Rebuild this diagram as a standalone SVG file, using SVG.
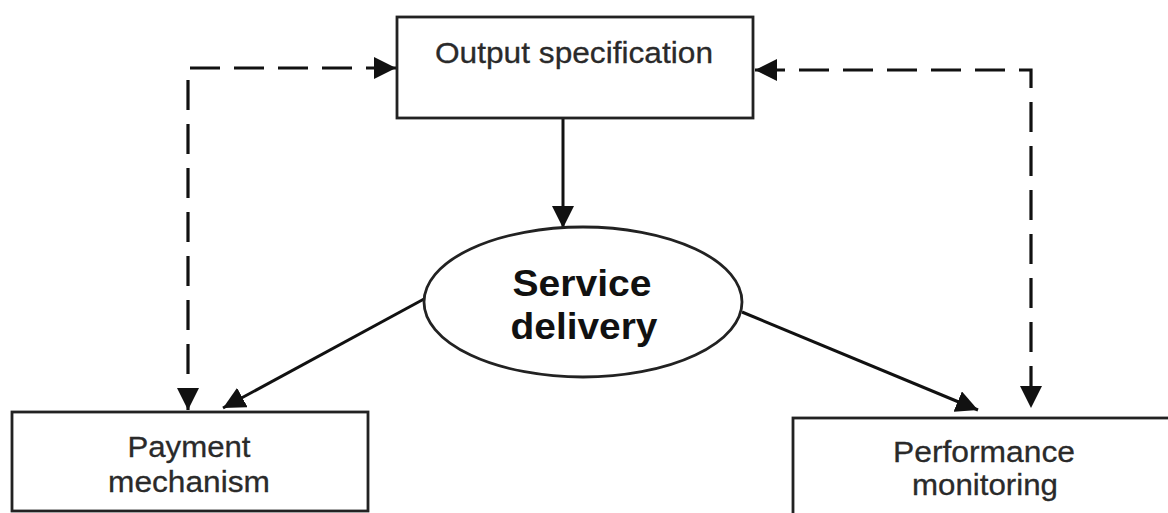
<svg xmlns="http://www.w3.org/2000/svg" width="1168" height="513" viewBox="0 0 1168 513">
  <style>
    .box { fill: #ffffff; stroke: #222222; stroke-width: 2.8; }
    .lbl { font-family: "Liberation Sans", Arial, sans-serif; font-size: 30px; fill: #2a2a2a; stroke: #2a2a2a; stroke-width: 0.3; text-anchor: middle; }
    .big { font-family: "Liberation Sans", Arial, sans-serif; font-size: 37px; font-weight: bold; fill: #111111; text-anchor: middle; }
    .solid { fill: none; stroke: #111111; stroke-width: 3; }
    .dash { fill: none; stroke: #111111; stroke-width: 3.2; stroke-dasharray: 30 14; }
  </style>
  <defs>
    <marker id="head" viewBox="0 0 10 10" refX="10" refY="5" markerWidth="22" markerHeight="22" markerUnits="userSpaceOnUse" orient="auto-start-reverse">
      <path d="M0,0 L10,5 L0,10 Z" fill="#111111"/>
    </marker>
  </defs>
  <rect width="1168" height="513" fill="#ffffff"/>

  <!-- connectors -->
  <g id="connectors">
    <line class="solid" x1="563" y1="118" x2="563" y2="228" marker-end="url(#head)"/>
    <line class="solid" x1="424" y1="299" x2="223" y2="408" marker-end="url(#head)"/>
    <line class="solid" x1="742" y1="312" x2="978" y2="410" marker-end="url(#head)"/>
    <polyline class="dash" points="396,68 188,68 188,410" marker-start="url(#head)" marker-end="url(#head)"/>
    <polyline class="dash" points="755,70 1031,70 1031,408" marker-start="url(#head)" marker-end="url(#head)"/>
  </g>

  <g id="output-specification">
    <rect class="box" x="397" y="17" width="356" height="101"/>
    <text class="lbl" x="574" y="63" textLength="278" lengthAdjust="spacingAndGlyphs">Output specification</text>
  </g>

  <g id="service-delivery">
    <ellipse class="box" cx="583" cy="302" rx="159" ry="75"/>
    <text class="big" x="582" y="296" textLength="139" lengthAdjust="spacingAndGlyphs">Service</text>
    <text class="big" x="584" y="339" textLength="147" lengthAdjust="spacingAndGlyphs">delivery</text>
  </g>

  <g id="payment-mechanism">
    <rect class="box" x="12" y="412" width="356" height="99"/>
    <text class="lbl" x="189" y="457" textLength="123" lengthAdjust="spacingAndGlyphs">Payment</text>
    <text class="lbl" x="189" y="492" textLength="162" lengthAdjust="spacingAndGlyphs">mechanism</text>
  </g>

  <g id="performance-monitoring">
    <rect class="box" x="793" y="418" width="400" height="120"/>
    <text class="lbl" x="984" y="462" textLength="182" lengthAdjust="spacingAndGlyphs">Performance</text>
    <text class="lbl" x="985" y="495" textLength="146" lengthAdjust="spacingAndGlyphs">monitoring</text>
  </g>
</svg>
